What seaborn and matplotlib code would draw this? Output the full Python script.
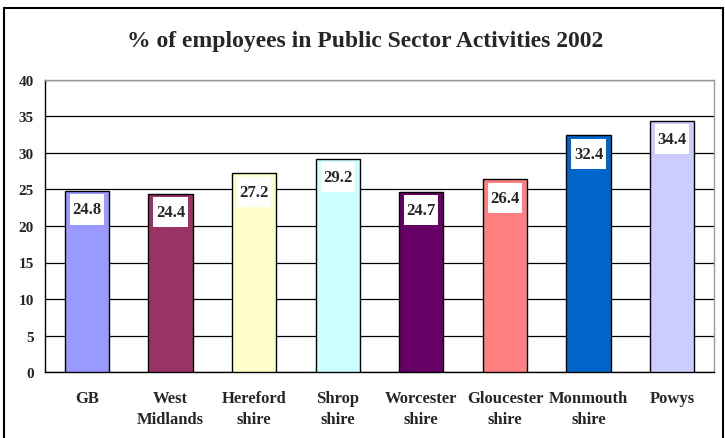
import matplotlib
matplotlib.use("Agg")
import matplotlib.pyplot as plt
from matplotlib.patches import Rectangle
from matplotlib.path import Path
from matplotlib.ticker import FixedLocator, MultipleLocator
import seaborn as sns
import pandas as pd

categories = ["GB", "West\nMidlands", "Hereford\nshire", "Shrop\nshire",
              "Worcester\nshire", "Gloucester\nshire", "Monmouth\nshire", "Powys"]
values = [24.8, 24.4, 27.2, 29.2, 24.7, 26.4, 32.4, 34.4]
bar_colors = ["#9999FF", "#993366", "#FFFFCC", "#CCFFFF",
              "#660066", "#FF8080", "#0066CC", "#CCCCFF"]
title = "% of employees in Public Sector Activities 2002"

sns.set_style("white")
plt.rcParams["font.family"] = ["Liberation Serif", "DejaVu Serif"]
plt.rcParams["font.weight"] = "bold"

df = pd.DataFrame({"area": categories, "pct": values})


def tall_box(x0, y0, width, height, mutation_size):
    """Rectangle with narrow side padding and deeper top/bottom padding."""
    px, py = 0.15 * mutation_size, 0.43 * mutation_size
    x0, y0 = x0 - px, y0 - py
    x1, y1 = x0 + width + 2 * px, y0 + height + 2 * py
    return Path([(x0, y0), (x1, y0), (x1, y1), (x0, y1), (x0, y0)], closed=True)


fig = plt.figure(figsize=(7.25, 4.39), dpi=100)
ax = fig.add_axes([45 / 725, 1 - 373 / 439, (714 - 45) / 725, (373 - 81) / 439])

sns.barplot(data=df, x="area", y="pct", hue="area", palette=bar_colors,
            legend=False, width=0.53, edgecolor="black", linewidth=1.0,
            saturation=1, ax=ax, zorder=3)

ax.set_ylim(0, 40)
ax.set_xlim(-0.5, len(categories) - 0.5)
ax.yaxis.set_major_locator(MultipleLocator(5))
ax.grid(axis="y", color="black", linewidth=0.9, zorder=0)
ax.set_axisbelow(True)
ax.set_xlabel("")
ax.set_ylabel("")

# frame: black left/bottom axes, gray top/right
for side in ("left", "bottom"):
    ax.spines[side].set_color("black")
    ax.spines[side].set_linewidth(1.0)
for side in ("top", "right"):
    ax.spines[side].set_color("#999999")
    ax.spines[side].set_linewidth(1.0)

ax.tick_params(axis="y", which="major", direction="out", length=4, width=1,
               color="black", labelsize=11, pad=4)
ax.tick_params(axis="x", which="major", length=0, labelsize=12, pad=13)
ax.xaxis.set_minor_locator(FixedLocator([i - 0.5 for i in range(len(categories) + 1)]))
ax.tick_params(axis="x", which="minor", direction="out", length=4, width=1, color="black")
for lbl in ax.get_xticklabels() + ax.get_yticklabels():
    lbl.set_fontweight("bold")
for lbl in ax.get_xticklabels():
    lbl.set_linespacing(1.4)
    lbl.set_verticalalignment("top")

# value labels in white boxes just inside each bar top
for i, v in enumerate(values):
    ax.annotate(f"{v:.1f}", xy=(i, v), xytext=(0, -7.5), textcoords="offset points",
                ha="center", va="top", fontsize=12, fontweight="bold", zorder=5,
                bbox=dict(boxstyle=tall_box, facecolor="white", edgecolor="none"))

fig.text(0.503, 1 - 41 / 439, title, ha="center", va="center",
         fontsize=17, fontweight="bold")

fig.patches.append(Rectangle((4 / 725, -0.01), 719 / 725, 1 - 9 / 439 + 0.01,
                             transform=fig.transFigure, fill=False,
                             edgecolor="black", linewidth=1.5))

fig.savefig("out.png", dpi=100)
